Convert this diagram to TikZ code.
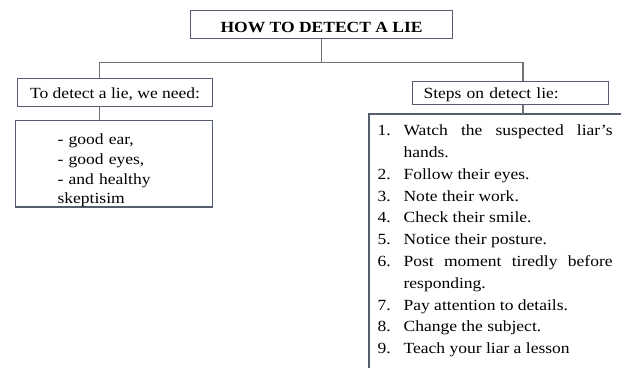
\documentclass[tikz,border=0pt]{standalone}
\usepackage{fontspec}
\setmainfont[FakeStretch=1.13]{Liberation Serif}
\usetikzlibrary{calc}

\definecolor{boxline}{RGB}{84,94,110}
\definecolor{linkline}{RGB}{112,112,112}

\begin{document}
\begin{tikzpicture}[x=1pt,y=-1pt,
	box/.style={draw=boxline,line width=1.2pt,anchor=north west,inner ysep=0pt,
		font=\fontsize{15.5}{21.8}\selectfont},
	link/.style={draw=linkline,line width=1.3pt}]

\useasboundingbox (0,0) rectangle (621,367);
\clip (0,0) rectangle (621,367);

\def\liestep#1#2{%
	\noindent\hangindent=26pt\hangafter=1\makebox[26pt][l]{#1.}#2\par
}

\node[box,minimum width=262pt,text height=22.5pt,text depth=6pt]
	(title) at (190,9.5) {\bfseries HOW TO DETECT A LIE};

\node[box,minimum width=195pt,text height=19.5pt,text depth=8.5pt]
	(need) at (17,78) {To detect a lie, we need:};
\node[box,inner xsep=42pt,text width=113pt,align=left,
	font=\fontsize{15.5}{19.7}\selectfont]
	(ears) at (15,120) {\rule{0pt}{24pt}- good ear,\\- good eyes,\\- and healthy\\skeptisim};

\node[box,inner xsep=11pt,text width=174pt,align=left,text height=17.3pt,text depth=5.7pt]
	(steps) at (412,81) {Steps on detect lie:};
\node[box,draw=none,inner xsep=8pt,text width=235pt,align=justify]
	(steplist) at (369,114) {\hyphenpenalty=10000
	\liestep{1}{\rule{0pt}{21pt}Watch the suspected liar's hands.}
	\liestep{2}{Follow their eyes.}
	\liestep{3}{Note their work.}
	\liestep{4}{Check their smile.}
	\liestep{5}{Notice their posture.}
	\liestep{6}{Post moment tiredly before responding.}
	\liestep{7}{Pay attention to details.}
	\liestep{8}{Change the subject.}
	\liestep{9}{Teach your liar a lesson}};
% list box runs off the page
\draw[draw=boxline,line width=1.2pt] ([xshift=20pt]steplist.north east)
	-- (steplist.north west) -- ([yshift=-30pt]steplist.south west);

\coordinate (lj) at (99.5,62.5);
\coordinate (rj) at (523,62.5);

\draw[link] (title.south) -- (title.south |- lj);
\draw[link] (lj |- need.north) -- (lj) -- (rj) -- (rj |- steps.north);
\draw[link] (lj |- need.south) -- (lj |- ears.north);
\draw[link] (rj |- steps.south) -- (rj |- steplist.north);

\end{tikzpicture}
\end{document}
